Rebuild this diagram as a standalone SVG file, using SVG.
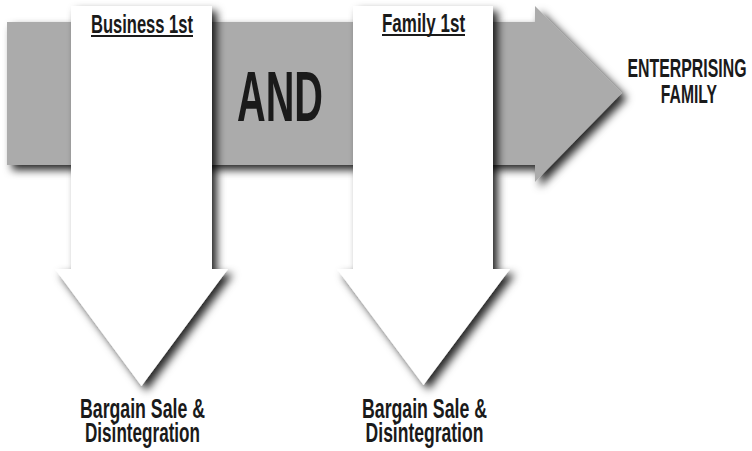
<svg xmlns="http://www.w3.org/2000/svg" width="752" height="451" viewBox="0 0 752 451">
<defs>
<filter id="sh" x="-20%" y="-20%" width="150%" height="150%">
<feDropShadow dx="5" dy="5" stdDeviation="4" flood-color="#000" flood-opacity="0.85"/>
</filter>
<style>
.t{font-family:"Liberation Sans",Arial,sans-serif;font-weight:bold;fill:#1a1a1a;text-anchor:middle}
.ul{stroke:#1a1a1a;stroke-width:2}
</style>
</defs>
<rect width="752" height="451" fill="#fff"/>
<g id="main-arrow">
<polygon points="7,22 535,22 535,6 622,93 535,182 535,165 7,165" fill="#ababab" filter="url(#sh)"/>
</g>
<g id="business-first">
<polygon points="71,6 212,6 212,269 228,269 141.5,386 55,269 71,269" fill="#fff" filter="url(#sh)"/>
<g transform="translate(142 0) scale(0.62 1)"><text class="t" x="0" y="33" font-size="25" textLength="164.5" lengthAdjust="spacingAndGlyphs">Business 1st</text></g>
<line class="ul" x1="91" y1="36" x2="193" y2="36"/>
</g>
<g id="family-first">
<polygon points="353,6 493,6 493,269 510,269 423.5,385 337,269 353,269" fill="#fff" filter="url(#sh)"/>
<g transform="translate(423.5 0) scale(0.62 1)"><text class="t" x="0" y="32" font-size="25" textLength="134" lengthAdjust="spacingAndGlyphs">Family 1st</text></g>
<line class="ul" x1="382" y1="35" x2="465" y2="35"/>
</g>
<g id="and-label">
<g transform="translate(280 0) scale(0.62 1)"><text class="t" x="0" y="121" font-size="70" textLength="138.7" lengthAdjust="spacingAndGlyphs">AND</text></g>
</g>
<g id="enterprising-family">
<g transform="translate(687 0) scale(0.62 1)"><text class="t" x="0" y="77" font-size="26" textLength="192" lengthAdjust="spacingAndGlyphs">ENTERPRISING</text>
<text class="t" x="3" y="103" font-size="26" textLength="90.3" lengthAdjust="spacingAndGlyphs">FAMILY</text></g>
</g>
<g id="outcome-1">
<g transform="translate(142.5 0) scale(0.62 1)"><text class="t" x="0" y="418" font-size="27" textLength="201.6" lengthAdjust="spacingAndGlyphs">Bargain Sale &amp;</text>
<text class="t" x="0" y="442" font-size="27" textLength="185.5" lengthAdjust="spacingAndGlyphs">Disintegration</text></g>
</g>
<g id="outcome-2">
<g transform="translate(424.5 0) scale(0.62 1)"><text class="t" x="0" y="418" font-size="27" textLength="201.6" lengthAdjust="spacingAndGlyphs">Bargain Sale &amp;</text>
<text class="t" x="0" y="442" font-size="27" textLength="190" lengthAdjust="spacingAndGlyphs">Disintegration</text></g>
</g>
<g id="connectors"></g>
</svg>
